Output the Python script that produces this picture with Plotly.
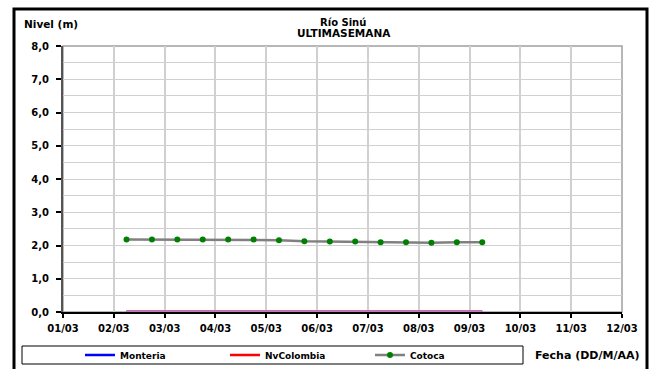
import plotly.graph_objects as go

# ---- data ----
fechas = ["2021-03-02 06:00", "2021-03-02 18:00", "2021-03-03 06:00", "2021-03-03 18:00",
          "2021-03-04 06:00", "2021-03-04 18:00", "2021-03-05 06:00", "2021-03-05 18:00",
          "2021-03-06 06:00", "2021-03-06 18:00", "2021-03-07 06:00", "2021-03-07 18:00",
          "2021-03-08 06:00", "2021-03-08 18:00", "2021-03-09 06:00"]
monteria = [0, 0, 0, 0, 0, 0, 0, 0, 0, 0, 0, 0, 0, 0, 0]
nvcolombia = [0, 0, 0, 0, 0, 0, 0, 0, 0, 0, 0, 0, 0, 0, 0]
cotoca = [2.18, 2.18, 2.18, 2.18, 2.18, 2.18, 2.16, 2.13, 2.12, 2.12, 2.10, 2.10, 2.08, 2.10, 2.10]
x_range = ["2021-03-01", "2021-03-12"]
y_range = [0, 8]

FONT = "DejaVu Sans"
L, R, T, B = 63, 622, 46, 312
W, H = R - L, B - T


def px(x):
    return (x - L) / W


def py(y):
    return (B - y) / H


fig = go.Figure()
# plotted series (zero series overlap -> blended colour)
fig.add_trace(go.Scatter(x=fechas, y=monteria, mode="lines", line=dict(color="#3030ff", width=3.5),
                         showlegend=False, cliponaxis=False, hoverinfo="skip"))
fig.add_trace(go.Scatter(x=fechas, y=nvcolombia, mode="lines", line=dict(color="#cf78a6", width=3.5),
                         showlegend=False, cliponaxis=False, hoverinfo="skip"))
fig.add_trace(go.Scatter(x=fechas, y=cotoca, mode="lines+markers", name="Cotoca",
                         line=dict(color="#808080", width=2.5),
                         marker=dict(color="#008000", size=6), showlegend=False, cliponaxis=False))
# legend entries
fig.add_trace(go.Scatter(x=[None], y=[None], mode="lines", name="Monteria",
                         line=dict(color="#0000ff", width=2.5)))
fig.add_trace(go.Scatter(x=[None], y=[None], mode="lines", name="NvColombia",
                         line=dict(color="#ff0000", width=2.5)))
fig.add_trace(go.Scatter(x=[None], y=[None], mode="lines+markers", name="Cotoca",
                         line=dict(color="#808080", width=2.5), marker=dict(color="#008000", size=6)))

tickfont = dict(family=FONT, size=10, color="black", weight="bold")

fig.update_xaxes(type="date", range=x_range, dtick=86400000, tick0="2021-03-01", tickformat="%d/%m",
                 showgrid=True, gridcolor="#d0d0d0", gridwidth=1.5,
                 showline=True, linecolor="black", linewidth=1.5, layer="below traces",
                 ticks="outside", ticklen=4, tickcolor="black", tickwidth=1.5,
                 ticklabelstandoff=2,
                 tickfont=tickfont, zeroline=False, fixedrange=True, automargin=False)
fig.update_yaxes(range=y_range, dtick=1, tick0=0, tickformat=".1f",
                 showgrid=True, gridcolor="#d0d0d0", gridwidth=1,
                 minor=dict(dtick=0.5, showgrid=True, gridcolor="#d0d0d0", gridwidth=1, ticks=""),
                 showline=True, linecolor="#555555", linewidth=2, layer="below traces",
                 ticks="outside", ticklen=5, tickcolor="black", tickwidth=1.5,
                 ticklabelstandoff=5,
                 tickfont=tickfont, zeroline=False, fixedrange=True, automargin=False)

shapes = [
    # plot area border (top/right grey)
    dict(type="rect", xref="paper", yref="paper", x0=0, x1=1, y0=0, y1=1,
         line=dict(color="#a0a0a0", width=1.5), layer="below"),
    # outer frame
    dict(type="rect", xref="paper", yref="paper", x0=px(14), x1=px(647), y0=py(420), y1=py(9),
         line=dict(color="black", width=3)),
    # legend box
    dict(type="rect", xref="paper", yref="paper", x0=px(22), x1=px(523), y0=py(364), y1=py(346),
         line=dict(color="black", width=1)),
]

annotations = [
    dict(text="Río Sinú", x=px(343), y=py(22), xref="paper", yref="paper", showarrow=False,
         font=dict(family=FONT, size=10, color="black", weight="bold"), xanchor="center", yanchor="middle"),
    dict(text="ULTIMASEMANA", x=px(344), y=py(33), xref="paper", yref="paper", showarrow=False,
         font=dict(family=FONT, size=10.5, color="black", weight="bold"), xanchor="center", yanchor="middle"),
    dict(text="Nivel (m)", x=px(22), y=py(24), xref="paper", yref="paper", showarrow=False,
         font=dict(family=FONT, size=10.5, color="black", weight="bold"), xanchor="left", yanchor="middle"),
    dict(text="Fecha (DD/M/AA)", x=px(641), y=py(356), xref="paper", yref="paper", showarrow=False,
         font=dict(family=FONT, size=11, color="black", weight="bold"), xanchor="right", yanchor="middle"),
]

fig.update_layout(
    width=653, height=369,
    margin=dict(l=L, r=653 - R, t=T, b=369 - B, pad=0, autoexpand=False),
    paper_bgcolor="white", plot_bgcolor="white",
    separators=", ",
    shapes=shapes, annotations=annotations,
    showlegend=True,
    legend=dict(orientation="h", x=px(80), y=py(355), xanchor="left", yanchor="middle",
                bgcolor="rgba(0,0,0,0)", borderwidth=0,
                font=dict(family=FONT, size=9, color="black", weight="bold"),
                entrywidth=100, entrywidthmode="pixels", itemclick=False, itemdoubleclick=False),
)

fig.write_html("out.html", config={"displayModeBar": False},
               post_script="document.body.style.margin='0';document.body.style.padding='0';")
